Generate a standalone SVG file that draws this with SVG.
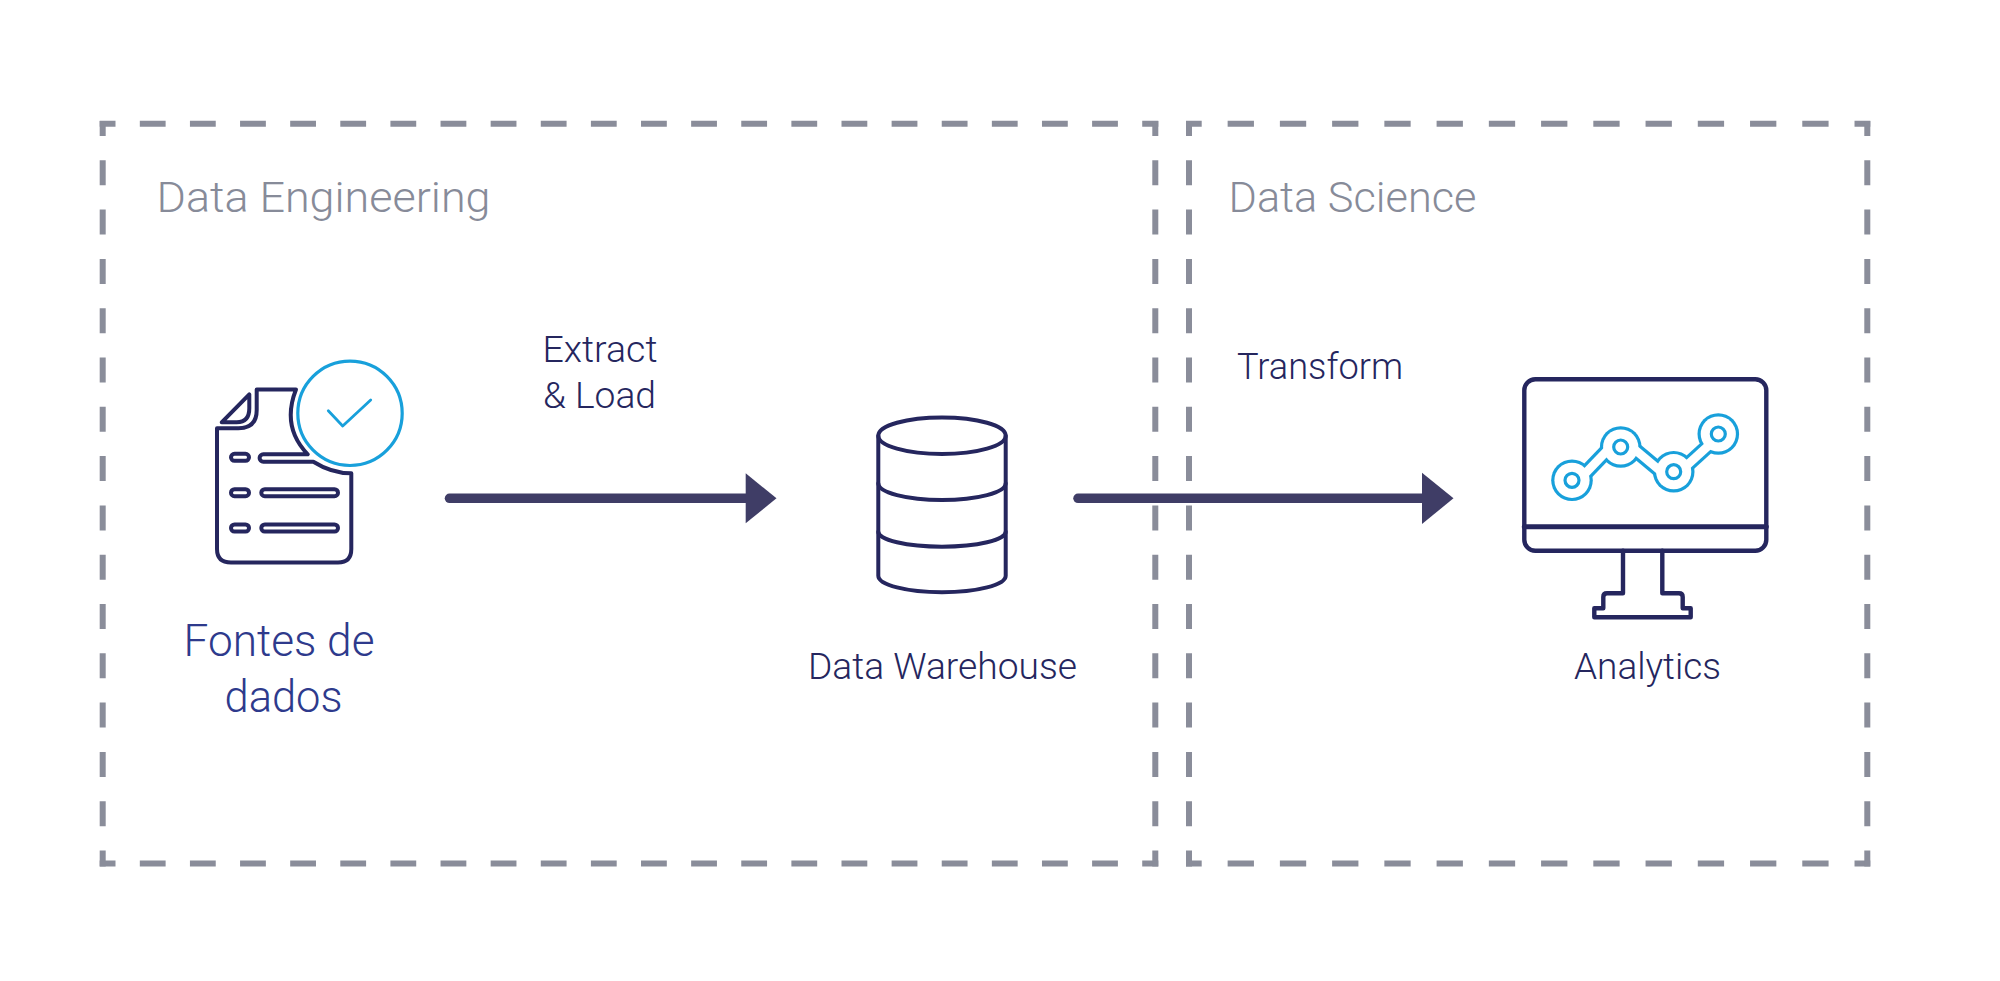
<svg xmlns="http://www.w3.org/2000/svg" width="2000" height="981" viewBox="0 0 2000 981">
<style>
text{font-family:"Roboto","Noto Sans","Liberation Sans",sans-serif;font-weight:300}
.dash{fill:none;stroke:#8a8d9a;stroke-width:6}
.hl{stroke-dasharray:25.8 24.32;stroke-dashoffset:10}
.hr{stroke-dasharray:26.3 25.94;stroke-dashoffset:10.6}
.v{stroke-dasharray:25 24.3;stroke-dashoffset:10}
.ink{fill:none;stroke:#25265e;stroke-linejoin:round;stroke-linecap:round}
.cy{fill:none;stroke:#18a0db;stroke-linejoin:round;stroke-linecap:round}
.title{font-size:43px;fill:#878b99}
.lab{font-size:36px;fill:#25265e}
.src{font-size:44px;fill:#2e3a8c}
.shaft{fill:none;stroke:#3f3d66;stroke-width:9.5;stroke-linecap:round}
.head{fill:#3f3d66}
</style>
<rect width="2000" height="981" fill="#ffffff"/>
<g id="data-engineering">
<path class="dash hl" d="M99.7 123.7H1158.3"/>
<path class="dash hl" d="M99.7 863.4H1158.3"/>
<path class="dash v" d="M102.7 121V866.4"/>
<path class="dash v" d="M1155.3 121V866.4"/>
<text class="title" x="156.5" y="211.7" textLength="334" lengthAdjust="spacingAndGlyphs">Data Engineering</text>
</g>
<g id="data-science">
<path class="dash hr" d="M1186 123.7H1870.3"/>
<path class="dash hr" d="M1186 863.4H1870.3"/>
<path class="dash v" d="M1189 121V866.4"/>
<path class="dash v" d="M1867.3 121V866.4"/>
<text class="title" x="1228.5" y="211.7" textLength="248" lengthAdjust="spacingAndGlyphs">Data Science</text>
</g>
<g id="connectors">
<path class="shaft" d="M449.5 498.3H748"/>
<path class="head" d="M745.7 473.3L776.5 498.3L745.7 523.3Z"/>
<path class="shaft" d="M1078 498.3H1424"/>
<path class="head" d="M1422 472.7L1453.5 498.3L1422 524Z"/>
<text class="lab" x="542.5" y="361.7" textLength="115" lengthAdjust="spacingAndGlyphs">Extract</text>
<text class="lab" x="543" y="408.3" textLength="113" lengthAdjust="spacingAndGlyphs">&amp; Load</text>
<text class="lab" x="1237" y="378.8" textLength="166" lengthAdjust="spacingAndGlyphs">Transform</text>
</g>
<g id="fontes-de-dados">
<path class="ink" stroke-width="4" d="M217 428.3H238.3Q256.7 428.3 256.7 410V389.6H296C286 415 290 436 307.7 454.3H263.3A3.7 3.7 0 0 0 263.3 461.7H313.3C325 469 337 473.3 351.3 473.3V549Q351.3 562.5 338 562.5H231Q217 562.5 217 549Z"/>
<path class="ink" stroke-width="4" d="M221.7 422.3L249.3 394.3V408.3Q249.3 422.3 236.7 422.3Z"/>
<rect class="ink" stroke-width="4" x="231" y="453.8" width="18" height="7" rx="3.5"/>
<rect class="ink" stroke-width="4" x="231" y="489.2" width="18" height="7" rx="3.5"/>
<rect class="ink" stroke-width="4" x="231" y="524.5" width="18" height="7" rx="3.5"/>
<rect class="ink" stroke-width="4" x="261.3" y="489.2" width="76.7" height="7" rx="3.5"/>
<rect class="ink" stroke-width="4" x="261.3" y="524.5" width="76.7" height="7" rx="3.5"/>
<circle class="cy" stroke-width="3.2" cx="350" cy="413.3" r="52.2"/>
<path class="cy" stroke-width="2.8" d="M328.3 410.7L342.7 426L370.7 400"/>
<text class="src" x="183.5" y="656" textLength="191" lengthAdjust="spacingAndGlyphs">Fontes de</text>
<text class="src" x="224.5" y="711.7" textLength="118" lengthAdjust="spacingAndGlyphs">dados</text>
</g>
<g id="data-warehouse">
<ellipse class="ink" stroke-width="4" cx="942" cy="435.7" rx="63.7" ry="18.3"/>
<path class="ink" stroke-width="4" d="M878.3 435.7V575.7A63.7 16.6 0 0 0 1005.7 575.7V435.7"/>
<path class="ink" stroke-width="4" d="M878.3 483.3A63.7 16.7 0 0 0 1005.7 483.3"/>
<path class="ink" stroke-width="4" d="M878.3 531.7A63.7 15 0 0 0 1005.7 531.7"/>
<text class="lab" x="808" y="678.6" textLength="269" lengthAdjust="spacingAndGlyphs">Data Warehouse</text>
</g>
<g id="analytics">
<rect class="ink" stroke-width="4.4" x="1524.3" y="379.3" width="242" height="171.4" rx="11"/>
<path class="ink" stroke-width="5" stroke-linecap="butt" d="M1524.3 526.7H1766.3"/>
<path class="ink" stroke-width="4.4" d="M1623 550.7V593.3H1607Q1603.3 593.3 1603.3 597V608.3H1594.3V617.3H1690.7V608.3H1682.7V597Q1682.7 593.3 1679 593.3H1662.3V550.7"/>
<g fill="#18a0db" stroke="none">
<circle cx="1572" cy="480.3" r="20.8"/><circle cx="1620.7" cy="447" r="20.8"/><circle cx="1673.7" cy="471.7" r="20.8"/><circle cx="1718.3" cy="434" r="20.8"/>
</g>
<g stroke="#18a0db" stroke-width="15" fill="none">
<path d="M1583.5 475.3L1607.5 450.3"/><path d="M1633.5 448.5L1659.5 470.2"/><path d="M1685.3 466.7L1710.3 444"/>
</g>
<g stroke="#ffffff" stroke-width="8.6" fill="none">
<path d="M1583.5 475.3L1607.5 450.3"/><path d="M1633.5 448.5L1659.5 470.2"/><path d="M1685.3 466.7L1710.3 444"/>
</g>
<g fill="#ffffff" stroke="none">
<circle cx="1572" cy="480.3" r="17.6"/><circle cx="1620.7" cy="447" r="17.6"/><circle cx="1673.7" cy="471.7" r="17.6"/><circle cx="1718.3" cy="434" r="17.6"/>
</g>
<g class="cy" stroke-width="3.2">
<circle cx="1572" cy="480.3" r="7"/><circle cx="1620.7" cy="447" r="7"/><circle cx="1673.7" cy="471.7" r="7"/><circle cx="1718.3" cy="434" r="7"/>
</g>
<text class="lab" x="1574" y="678.6" textLength="147" lengthAdjust="spacingAndGlyphs">Analytics</text>
</g>
</svg>
